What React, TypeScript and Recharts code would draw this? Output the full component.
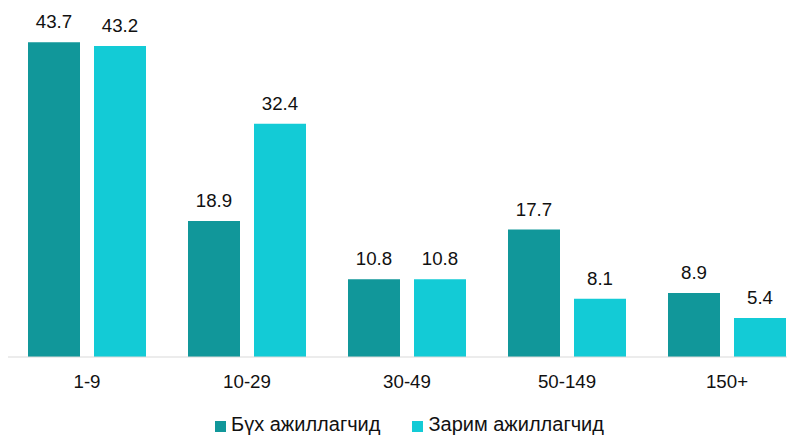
import { Bar, BarChart, LabelList, XAxis, YAxis } from "recharts";

const categories = ["1-9", "10-29", "30-49", "50-149", "150+"];
const allWorkers = [43.7, 18.9, 10.8, 17.7, 8.9];
const someWorkers = [43.2, 32.4, 10.8, 8.1, 5.4];
const seriesNames = ["Бүх ажиллагчид", "Зарим ажиллагчид"];

const DARK = "#11979a";
const LIGHT = "#13cbd6";
const FONT = "'Liberation Sans', Arial, sans-serif";
const FS = 18.7;

const data = categories.map((c, i) => ({ c, all: allWorkers[i], some: someWorkers[i] }));

const labelStyle = { fontSize: FS, fill: "#111", fontFamily: FONT };

export default function App() {
  return (
    <div style={{ width: 787, fontFamily: FONT }}>
      <BarChart width={787} height={400} data={data} barSize={52} barGap={14}
                margin={{ top: 25, right: -12, bottom: 0, left: -1 }}>
        <XAxis dataKey="c" axisLine={{ stroke: "#d9d9d9" }} tickLine={false} tickMargin={12}
               height={51} tick={{ fontSize: FS, fill: "#111", fontFamily: FONT }} interval={0} />
        <YAxis hide domain={[0, 45]} />
        <Bar dataKey="all" fill={DARK} isAnimationActive={false}>
          <LabelList dataKey="all" position="top" offset={14} style={labelStyle} />
        </Bar>
        <Bar dataKey="some" fill={LIGHT} isAnimationActive={false}>
          <LabelList dataKey="some" position="top" offset={14} style={labelStyle} />
        </Bar>
      </BarChart>
      <div style={{ display: "flex", justifyContent: "center", paddingLeft: 16, height: 32,
                    alignItems: "center", fontSize: 20, color: "#111" }}>
        {seriesNames.map((n, i) => (
          <div key={n} style={{ display: "flex", alignItems: "center", marginRight: i === 0 ? 32 : 0 }}>
            <span style={{ width: 11, height: 11, background: i === 0 ? DARK : LIGHT,
                           display: "inline-block", marginRight: 5, marginTop: 4 }} />
            <span>{n}</span>
          </div>
        ))}
      </div>
    </div>
  );
}
